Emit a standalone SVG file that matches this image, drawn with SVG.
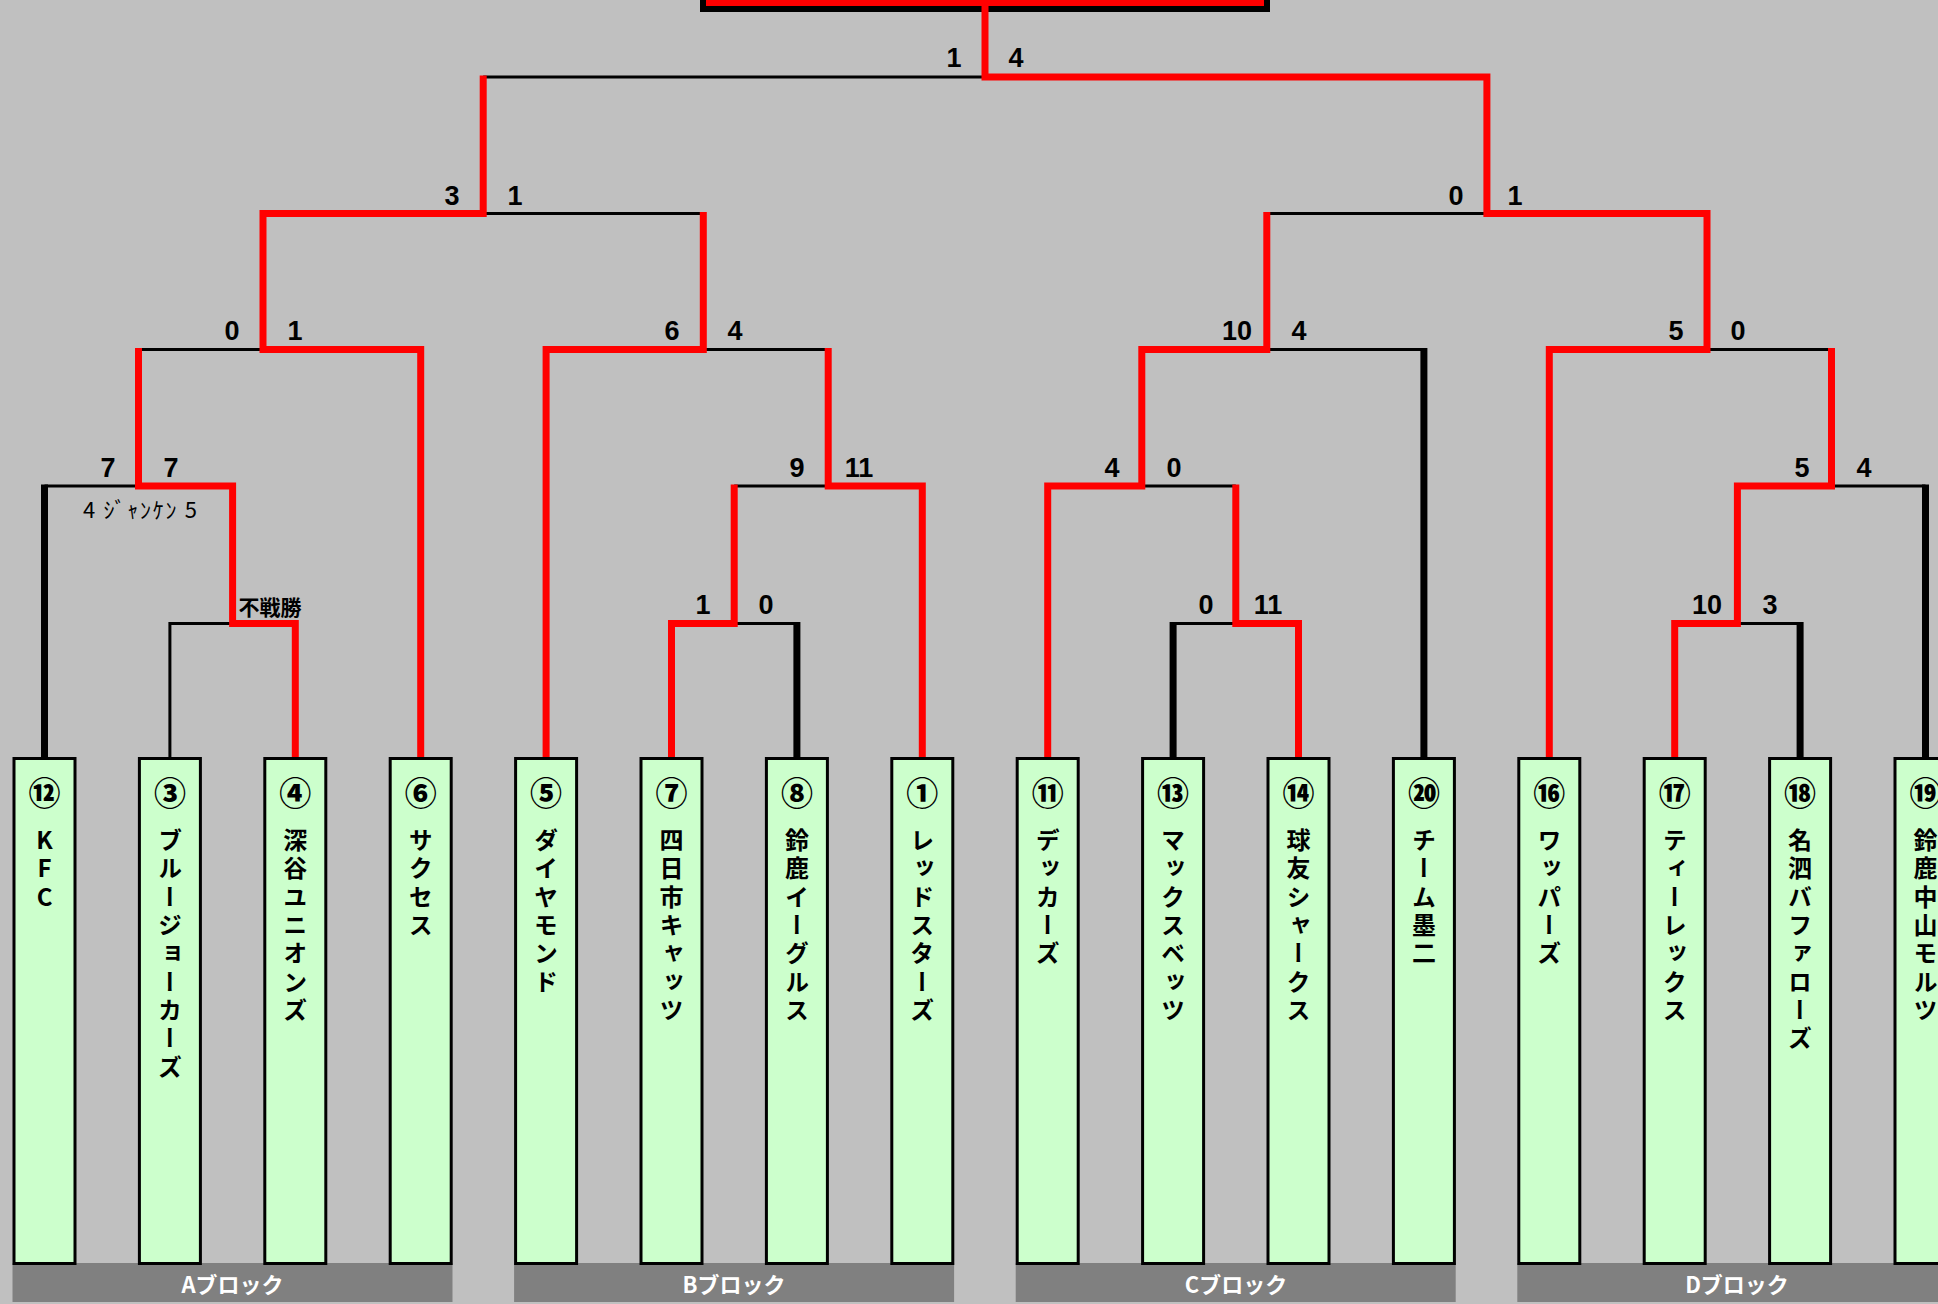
<svg xmlns="http://www.w3.org/2000/svg" width="1938" height="1304" viewBox="0 0 1938 1304">
<style>
.box{fill:#CCFFCC;stroke:#000;stroke-width:3}
.num{font-family:"Noto Sans CJK JP",sans-serif;font-weight:900;font-size:32px;text-anchor:middle;dominant-baseline:central;fill:#000}
.name{font-family:"Noto Sans CJK JP",sans-serif;font-weight:700;font-size:24px;writing-mode:vertical-rl;letter-spacing:4.3px;fill:#000}
.up{text-orientation:upright}
.thin{fill:none;stroke:#000;stroke-width:3}
.thick{fill:none;stroke:#000;stroke-width:7}
.red{fill:none;stroke:#FF0000;stroke-width:7;stroke-linejoin:miter}
.score{font-family:"Liberation Sans Narrow","Liberation Sans",sans-serif;font-weight:700;font-size:27px;text-anchor:middle;dominant-baseline:central;fill:#000}
.note{font-family:"Noto Sans CJK JP",sans-serif;font-size:22px;dominant-baseline:central;fill:#000}
.win{font-family:"Noto Sans CJK JP",sans-serif;font-weight:700;font-size:21px;text-anchor:middle;dominant-baseline:central;fill:#000}
.bar{fill:#808080}
.blk{font-family:"Noto Sans CJK JP",sans-serif;font-weight:700;font-size:22px;fill:#FFFFFF;text-anchor:middle;dominant-baseline:central}
</style>
<rect x="0" y="0" width="1938" height="1304" fill="#C0C0C0"/>

<g id="blocks">
<g id="block-A"><rect class="bar" x="12.5" y="1263" width="440" height="39"/><text class="blk" x="232.5" y="1283">Aブロック</text></g>
<g id="block-B"><rect class="bar" x="514.1" y="1263" width="440" height="39"/><text class="blk" x="734" y="1283">Bブロック</text></g>
<g id="block-C"><rect class="bar" x="1015.7" y="1263" width="440" height="39"/><text class="blk" x="1236" y="1283">Cブロック</text></g>
<g id="block-D"><rect class="bar" x="1517.3" y="1263" width="440" height="39"/><text class="blk" x="1737" y="1283">Dブロック</text></g>
</g>

<g id="champion">
<rect x="703" y="-60" width="564" height="69" fill="none" stroke="#000" stroke-width="6"/>
</g>

<g id="connectors">
<path class="thin" d="M169.9,757 V623.5 H295.3"/>
<path class="thin" d="M671.5,623.5 H796.9 M1173.1,623.5 H1298.5 M1674.7,623.5 H1800.1"/>
<path class="thin" d="M44.5,486 H232.6 M734.2,486 H922.3 M1047.7,486 H1235.8 M1737.4,486 H1925.5"/>
<path class="thin" d="M138.5,349.5 H420.7 M546.1,349.5 H828.2 M1141.8,349.5 H1423.9 M1549.3,349.5 H1831.5"/>
<path class="thin" d="M263,213.5 H703.3 M1266.8,213.5 H1707"/>
<path class="thin" d="M483.2,77 H1486.9"/>
<path class="thick" d="M44.5,757 V484.5 M796.9,757 V622 M1173.1,757 V622 M1423.9,757 V348 M1800.1,757 V622 M1925.5,757 V484.5"/>
<path class="red" d="M295.3,757 V623.5 H232.6 V486 H138.5 V348"/>
<path class="red" d="M420.7,757 V349.5 H263 V213.5 H483.2 V75.5"/>
<path class="red" d="M546.1,757 V349.5 H703.3 V212"/>
<path class="red" d="M671.5,757 V623.5 H734.2 V484.5"/>
<path class="red" d="M922.3,757 V486 H828.2 V348"/>
<path class="red" d="M1047.7,757 V486 H1141.8 V349.5 H1266.8 V212"/>
<path class="red" d="M1298.5,757 V623.5 H1235.8 V484.5"/>
<path class="red" d="M1674.7,757 V623.5 H1737.4 V486 H1831.5 V348"/>
<path class="red" d="M1549.3,757 V349.5 H1707 V213.5 H1486.9 V77 H985 V5"/>
<rect x="706" y="0" width="558" height="6" fill="#FF0000"/>
</g>

<g id="scores">
<text class="score" x="954" y="58">1</text><text class="score" x="1016" y="58">4</text>
<text class="score" x="452" y="196">3</text><text class="score" x="515" y="196">1</text>
<text class="score" x="1456" y="196">0</text><text class="score" x="1515" y="196">1</text>
<text class="score" x="232" y="331">0</text><text class="score" x="295" y="331">1</text>
<text class="score" x="672" y="331">6</text><text class="score" x="735" y="331">4</text>
<text class="score" x="1237" y="331">10</text><text class="score" x="1299" y="331">4</text>
<text class="score" x="1676" y="331">5</text><text class="score" x="1738" y="331">0</text>
<text class="score" x="108" y="468">7</text><text class="score" x="171" y="468">7</text>
<text class="score" x="797" y="468">9</text><text class="score" x="859" y="468">11</text>
<text class="score" x="1112" y="468">4</text><text class="score" x="1174" y="468">0</text>
<text class="score" x="1802" y="468">5</text><text class="score" x="1864" y="468">4</text>
<text class="note" x="83" y="508" textLength="114" lengthAdjust="spacing">4 ｼﾞｬﾝｹﾝ 5</text>
<text class="win" x="270" y="606">不戦勝</text>
<text class="score" x="703" y="605">1</text><text class="score" x="766" y="605">0</text>
<text class="score" x="1206" y="605">0</text><text class="score" x="1268" y="605">11</text>
<text class="score" x="1707" y="605">10</text><text class="score" x="1770" y="605">3</text>
</g>

<g id="team-12"><rect class="box" x="14" y="758.5" width="61" height="505"/><text class="num" x="44.5" y="791">⑫</text><text class="name up" x="44.5" y="828">KFC</text></g>
<g id="team-3"><rect class="box" x="139.4" y="758.5" width="61" height="505"/><text class="num" x="169.9" y="791">③</text><text class="name" x="169.9" y="828">ブルージョーカーズ</text></g>
<g id="team-4"><rect class="box" x="264.8" y="758.5" width="61" height="505"/><text class="num" x="295.3" y="791">④</text><text class="name" x="295.3" y="828">深谷ユニオンズ</text></g>
<g id="team-6"><rect class="box" x="390.2" y="758.5" width="61" height="505"/><text class="num" x="420.7" y="791">⑥</text><text class="name" x="420.7" y="828">サクセス</text></g>
<g id="team-5"><rect class="box" x="515.6" y="758.5" width="61" height="505"/><text class="num" x="546.1" y="791">⑤</text><text class="name" x="546.1" y="828">ダイヤモンド</text></g>
<g id="team-7"><rect class="box" x="641" y="758.5" width="61" height="505"/><text class="num" x="671.5" y="791">⑦</text><text class="name" x="671.5" y="828">四日市キャッツ</text></g>
<g id="team-8"><rect class="box" x="766.4" y="758.5" width="61" height="505"/><text class="num" x="796.9" y="791">⑧</text><text class="name" x="796.9" y="828">鈴鹿イーグルス</text></g>
<g id="team-1"><rect class="box" x="891.8" y="758.5" width="61" height="505"/><text class="num" x="922.3" y="791">①</text><text class="name" x="922.3" y="828">レッドスターズ</text></g>
<g id="team-11"><rect class="box" x="1017.2" y="758.5" width="61" height="505"/><text class="num" x="1047.7" y="791">⑪</text><text class="name" x="1047.7" y="828">デッカーズ</text></g>
<g id="team-13"><rect class="box" x="1142.6" y="758.5" width="61" height="505"/><text class="num" x="1173.1" y="791">⑬</text><text class="name" x="1173.1" y="828">マックスベッツ</text></g>
<g id="team-14"><rect class="box" x="1268" y="758.5" width="61" height="505"/><text class="num" x="1298.5" y="791">⑭</text><text class="name" x="1298.5" y="828">球友シャークス</text></g>
<g id="team-20"><rect class="box" x="1393.4" y="758.5" width="61" height="505"/><text class="num" x="1423.9" y="791">⑳</text><text class="name" x="1423.9" y="828">チーム墨二</text></g>
<g id="team-16"><rect class="box" x="1518.8" y="758.5" width="61" height="505"/><text class="num" x="1549.3" y="791">⑯</text><text class="name" x="1549.3" y="828">ワッパーズ</text></g>
<g id="team-17"><rect class="box" x="1644.2" y="758.5" width="61" height="505"/><text class="num" x="1674.7" y="791">⑰</text><text class="name" x="1674.7" y="828">ティーレックス</text></g>
<g id="team-18"><rect class="box" x="1769.6" y="758.5" width="61" height="505"/><text class="num" x="1800.1" y="791">⑱</text><text class="name" x="1800.1" y="828">名泗バファローズ</text></g>
<g id="team-19"><rect class="box" x="1895" y="758.5" width="61" height="505"/><text class="num" x="1925.5" y="791">⑲</text><text class="name" x="1925.5" y="828">鈴鹿中山モルツ</text></g>
</svg>
